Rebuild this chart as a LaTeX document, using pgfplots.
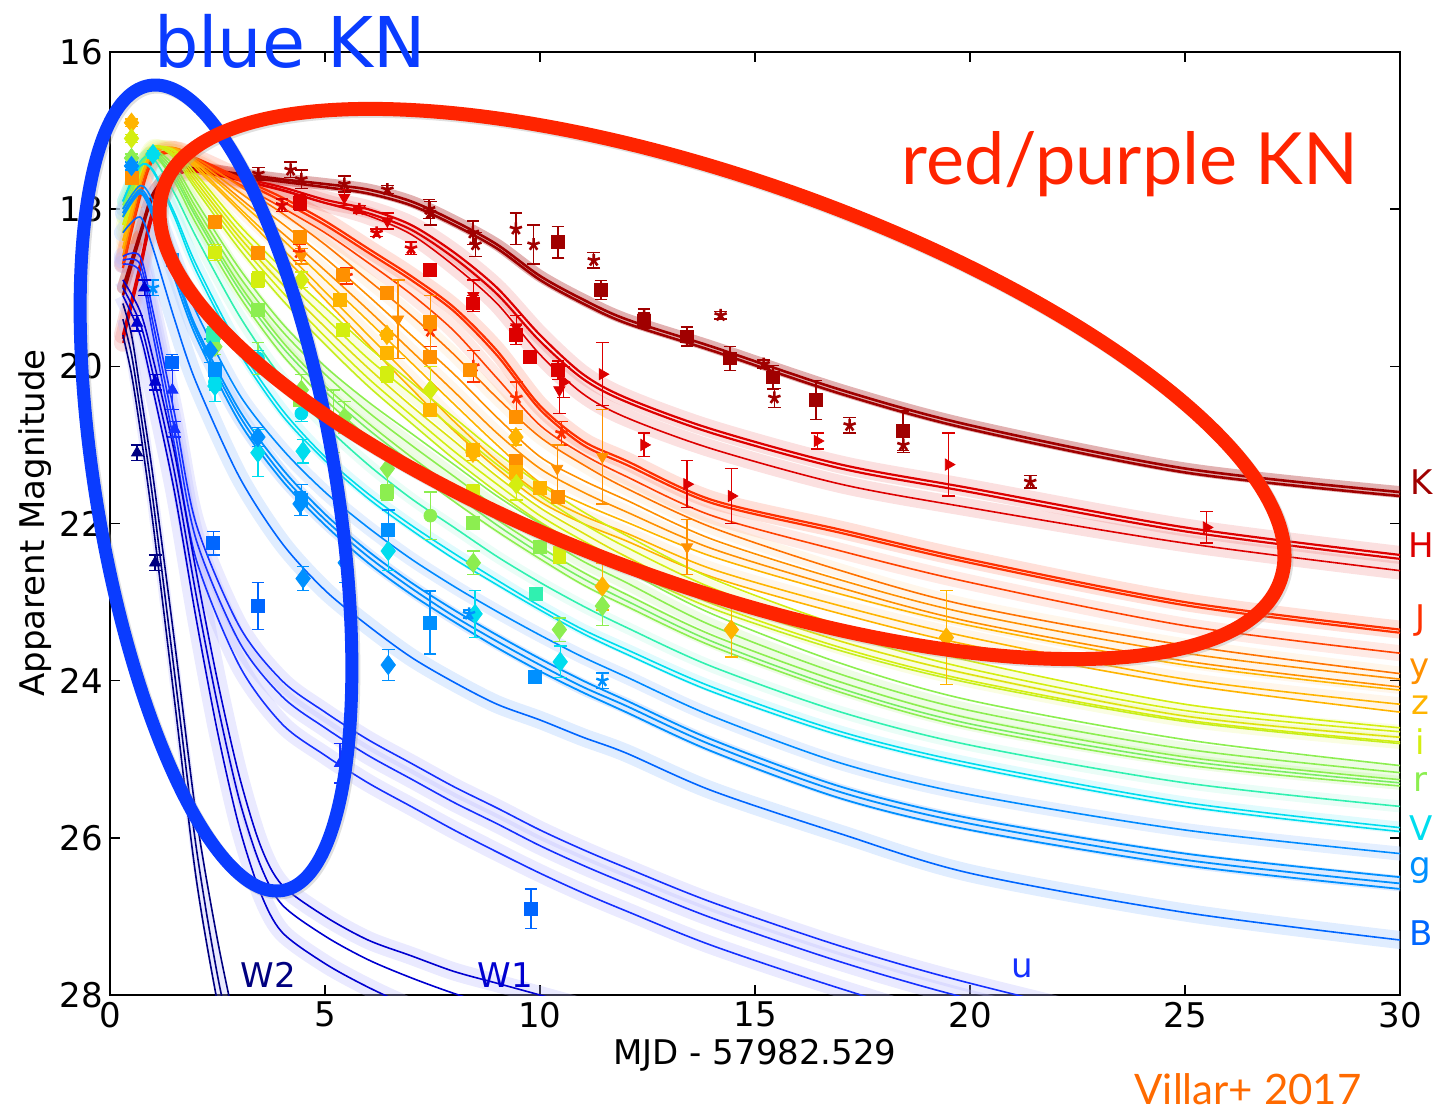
\documentclass[border=0pt]{standalone}
\usepackage{pgfplots}
\usepackage{pgfplotstable}
\pgfplotsset{compat=1.18}
\usepackage{fontspec}
\setmainfont{DejaVu Sans}
\newfontfamily\gill{Lato}

\definecolor{cK}{HTML}{A00000}
\definecolor{cH}{HTML}{DD0000}
\definecolor{cJ}{HTML}{FF3000}
\definecolor{cY}{HTML}{FF9000}
\definecolor{cZ}{HTML}{FFB400}
\definecolor{cI}{HTML}{D4EE10}
\definecolor{cR}{HTML}{8CEE50}
\definecolor{cT}{HTML}{30F0B0}
\definecolor{cV}{HTML}{00DDEE}
\definecolor{cG}{HTML}{0090FF}
\definecolor{cB}{HTML}{0066FF}
\definecolor{cU}{HTML}{1530FF}
\definecolor{cW1}{HTML}{0000D0}
\definecolor{cW2}{HTML}{000080}
\definecolor{lblue}{HTML}{BBD6FF}
\definecolor{lav}{HTML}{B8B8FF}
\definecolor{ellB}{HTML}{0A3CFF}
\definecolor{ellR}{HTML}{FF2400}
\definecolor{villar}{HTML}{FF6A00}

\pgfplotstableread{
x K1 K2 H1 H2 H3 J1 J2 J3 O1 O2 O3 O4 O5 O6 Y1 Y2 Y3 Y4 Y5 G1 G2 G3 G4 G5 T C1 C2 g1 g2 g3 g4 B u1 u2 u3
0.3 19.0 19.1 19.6 19.65 19.7 18.7 18.75 18.7 18.6 18.6 18.5 18.5 18.4 18.4 18.3 18.3 18.2 18.2 18.1 18.1 18.1 18.0 18.0 17.95 17.9 17.9 17.9 18.0 18.05 18.05 18.1 18.3 18.6 18.65 18.7
0.7 18.3 18.35 18.7 18.75 18.8 17.8 17.85 17.8 17.7 17.7 17.65 17.65 17.6 17.6 17.55 17.55 17.5 17.5 17.48 17.5 17.5 17.45 17.45 17.42 17.4 17.45 17.45 17.7 17.75 17.78 17.8 18.1 18.6 18.7 18.8
1.0 17.8 17.85 18.0 18.05 18.1 17.35 17.38 17.35 17.3 17.3 17.28 17.28 17.25 17.25 17.22 17.22 17.2 17.2 17.2 17.25 17.27 17.28 17.3 17.3 17.35 17.5 17.52 17.9 18.0 18.05 18.1 18.5 19.3 19.45 19.6
1.5 17.5 17.53 17.55 17.58 17.6 17.25 17.27 17.27 17.22 17.22 17.22 17.23 17.23 17.24 17.25 17.27 17.3 17.32 17.35 17.45 17.5 17.55 17.6 17.65 17.8 18.05 18.1 18.6 18.75 18.8 18.88 19.4 20.6 20.8 21.0
2 17.48 17.5 17.5 17.52 17.52 17.35 17.38 17.4 17.35 17.38 17.4 17.42 17.45 17.48 17.55 17.6 17.65 17.7 17.75 17.9 17.98 18.05 18.1 18.18 18.35 18.7 18.78 19.3 19.5 19.55 19.62 20.2 22.0 22.2 22.45
3 17.55 17.58 17.6 17.63 17.62 17.6 17.63 17.68 17.7 17.78 17.85 17.9 17.98 18.02 18.2 18.28 18.35 18.42 18.5 18.75 18.85 18.95 19.02 19.1 19.35 19.75 19.82 20.35 20.55 20.62 20.7 21.4 23.3 23.5 23.8
4 17.62 17.65 17.72 17.76 17.75 17.85 17.9 17.98 18.05 18.18 18.3 18.38 18.5 18.58 18.75 18.85 18.95 19.05 19.15 19.45 19.55 19.68 19.75 19.85 20.15 20.55 20.62 21.05 21.3 21.38 21.45 22.25 24.0 24.2 24.55
5 17.68 17.72 17.88 17.92 17.92 18.15 18.2 18.3 18.45 18.62 18.78 18.9 19.05 19.15 19.25 19.38 19.5 19.62 19.72 20.0 20.1 20.25 20.32 20.42 20.75 21.15 21.2 21.6 21.88 21.95 22.02 22.85 24.4 24.6 24.95
6 17.75 17.8 18.0 18.05 18.08 18.5 18.55 18.68 18.9 19.1 19.28 19.42 19.6 19.72 19.75 19.9 20.02 20.15 20.25 20.45 20.58 20.72 20.8 20.9 21.25 21.62 21.68 22.05 22.35 22.42 22.5 23.3 24.75 24.95 25.3
7 17.9 17.95 18.2 18.26 18.32 18.85 18.9 19.08 19.35 19.6 19.8 19.95 20.15 20.28 20.2 20.35 20.5 20.62 20.72 20.85 21.0 21.15 21.22 21.32 21.68 22.02 22.08 22.45 22.75 22.82 22.9 23.7 25.05 25.25 25.6
8 18.15 18.2 18.55 18.62 18.72 19.25 19.3 19.55 19.85 20.1 20.32 20.48 20.7 20.82 20.65 20.8 20.95 21.08 21.18 21.25 21.4 21.55 21.62 21.72 22.05 22.38 22.45 22.8 23.1 23.18 23.25 24.02 25.35 25.55 25.9
9 18.45 18.5 19.0 19.08 19.2 19.8 19.86 20.15 20.4 20.65 20.85 21.0 21.2 21.3 21.1 21.25 21.4 21.5 21.6 21.65 21.8 21.95 22.02 22.1 22.42 22.72 22.78 23.12 23.42 23.5 23.58 24.3 25.62 25.82 26.18
10 18.85 18.9 19.6 19.68 19.85 20.5 20.55 20.75 20.9 21.15 21.3 21.48 21.62 21.72 21.5 21.65 21.8 21.9 21.98 22.0 22.15 22.3 22.38 22.45 22.75 23.05 23.1 23.42 23.72 23.8 23.88 24.5 25.9 26.1 26.45
11 19.15 19.2 20.1 20.16 20.35 20.95 21.0 21.12 21.25 21.45 21.6 21.75 21.9 22.0 21.85 22.0 22.12 22.22 22.3 22.32 22.48 22.62 22.7 22.78 23.05 23.35 23.4 23.7 24.0 24.08 24.15 24.72 26.15 26.35 26.7
12 19.4 19.45 20.4 20.45 20.65 21.2 21.25 21.4 21.55 21.7 21.85 21.98 22.12 22.22 22.15 22.3 22.42 22.5 22.58 22.6 22.75 22.9 22.98 23.05 23.32 23.6 23.66 23.95 24.25 24.32 24.4 24.92 26.38 26.58 26.93
14 19.75 19.8 20.8 20.85 21.05 21.7 21.74 21.9 22.05 22.2 22.32 22.42 22.58 22.68 22.7 22.82 22.95 23.02 23.08 23.15 23.3 23.42 23.5 23.56 23.82 24.08 24.14 24.45 24.75 24.82 24.9 25.4 26.82 27.02 27.37
17 20.3 20.35 21.25 21.3 21.5 22.08 22.12 22.35 22.6 22.72 22.82 22.9 23.05 23.15 23.3 23.4 23.5 23.58 23.62 23.78 23.92 24.02 24.1 24.15 24.4 24.65 24.7 25.05 25.35 25.42 25.5 25.95 27.38 27.58 27.92
20 20.75 20.8 21.55 21.6 21.8 22.46 22.5 22.75 23.05 23.15 23.25 23.3 23.45 23.55 23.75 23.85 23.92 24.0 24.03 24.25 24.38 24.48 24.55 24.6 24.82 25.05 25.1 25.45 25.75 25.82 25.9 26.45 27.85 28.05 28.4
25 21.3 21.35 22.05 22.1 22.25 23.0 23.04 23.3 23.55 23.65 23.75 23.8 23.98 24.05 24.3 24.38 24.45 24.5 24.52 24.75 24.87 24.97 25.02 25.07 25.3 25.55 25.6 25.9 26.2 26.28 26.35 26.95 28.5 28.7 29.0
30 21.6 21.65 22.4 22.45 22.6 23.35 23.39 23.65 23.91 23.98 24.08 24.12 24.3 24.4 24.6 24.65 24.72 24.78 24.8 25.08 25.17 25.26 25.3 25.34 25.6 25.87 25.92 26.2 26.5 26.58 26.65 27.3 29.0 29.2 29.5
}\main

\pgfplotstableread{
x a b c
0.3 18.9 19.0 19.1
0.7 19.3 19.45 19.6
1.0 19.9 20.1 20.3
1.5 21.1 21.35 21.6
2.0 22.6 22.9 23.2
2.5 24.0 24.3 24.65
3.0 25.2 25.5 25.85
3.5 26.1 26.35 26.7
4.0 26.6 26.85 27.2
5.0 27.0 27.25 27.6
6.0 27.3 27.55 27.9
7.0 27.5 27.78 28.15
8.0 27.7 27.98 28.35
9.0 27.85 28.15 28.5
10 28.0 28.3 28.65
11 28.15 28.45 28.8
12 28.3 28.6 28.95
}\wone

\pgfplotstableread{
x a b c
0.3 19.2 19.4 19.6
0.5 19.6 19.85 20.1
0.7 20.3 20.55 20.8
1.0 21.4 21.7 22.0
1.5 23.5 23.9 24.25
2.0 25.7 26.1 26.5
2.5 27.3 27.75 28.1
3.0 28.6 29.0 29.4
3.5 29.8 30.2 30.6
}\wtwo

\newcommand\bnd[4]{\addplot[draw=#2, line width=#3, draw opacity=#4, smooth, line cap=round] table[x=x,y=#1]{\main};}
\newcommand\mln[3]{\addplot[draw=#2, line width=#3, smooth] table[x=x,y=#1]{\main};}

\pgfplotsset{
  pts/.style={only marks, mark size=3.2pt, error bars/.cd, y dir=both, y explicit, error mark=-, error bar style={line width=0.7pt}, error mark options={rotate=90, line width=0.7pt, mark size=3.2pt}},
  dia/.style={only marks, mark=diamond*, mark size=4.8pt, error bars/.cd, y dir=both, y explicit, error mark=-, error bar style={line width=0.7pt}, error mark options={rotate=90, line width=0.7pt, mark size=3.2pt}},
}

\begin{document}
\begin{tikzpicture}
\useasboundingbox (0,0) rectangle (722pt,555pt);
\begin{axis}[
  at={(55pt,57.5pt)}, anchor=south west,
  scale only axis, width=645pt, height=471.5pt,
  xmin=0, xmax=30, ymin=16, ymax=28, y dir=reverse,
  xtick={0,5,...,30}, ytick={16,18,...,28},
  tick align=inside, major tick length=5pt,
  tick style={black, line width=0.7pt},
  axis line style={line width=1pt},
  /pgf/number format/assume math mode=true,
  tick label style={font=\fontsize{17}{20}\selectfont},
  clip=true,
]
% ---------- bands ----------
\bnd{K1}{cK}{6pt}{0.3}
\bnd{H1}{cH}{9pt}{0.12}
\bnd{H3}{cH}{9pt}{0.12}
\bnd{J1}{cJ}{9pt}{0.15}
\bnd{J3}{cJ}{8pt}{0.1}
\bnd{O1}{cY}{7pt}{0.08}
\bnd{O3}{cY}{7pt}{0.08}
\bnd{O5}{cY}{7pt}{0.08}
\bnd{Y2}{cI}{7pt}{0.12}
\bnd{Y4}{cI}{7pt}{0.12}
\bnd{G2}{cR}{7pt}{0.15}
\bnd{G4}{cR}{7pt}{0.15}
\bnd{T}{cT}{6pt}{0.1}
\bnd{C1}{cV}{6pt}{0.12}
\bnd{g1}{lblue}{7pt}{0.4}
\bnd{g3}{lblue}{8pt}{0.5}
\bnd{B}{lblue}{9pt}{0.45}
\bnd{u1}{lav}{9pt}{0.3}
\bnd{u2}{lav}{9pt}{0.3}
\bnd{u3}{lav}{9pt}{0.3}
\addplot[draw=lav, line width=9pt, draw opacity=0.3, smooth] table[x=x,y=a]{\wone};
\addplot[draw=lav, line width=9pt, draw opacity=0.3, smooth] table[x=x,y=c]{\wone};
\addplot[draw=lav, line width=6pt, draw opacity=0.3, smooth] table[x=x,y=b]{\wtwo};
% ---------- lines ----------
\mln{K1}{cK}{1.3pt}
\mln{K2}{cK}{1.3pt}
\mln{H1}{cH}{1.1pt}
\mln{H2}{cH}{1.1pt}
\mln{H3}{cH}{0.8pt}
\mln{J1}{cJ}{1.1pt}
\mln{J2}{cJ}{1.1pt}
\mln{J3}{cJ!80!cY}{0.8pt}
\mln{O1}{cY!70!cJ}{0.8pt}
\mln{O2}{cY}{0.8pt}
\mln{O3}{cY}{0.8pt}
\mln{O4}{cZ}{0.8pt}
\mln{O5}{cZ}{0.8pt}
\mln{O6}{cZ}{0.8pt}
\mln{Y1}{cI}{0.8pt}
\mln{Y2}{cI}{0.8pt}
\mln{Y3}{cI!80!cZ}{0.8pt}
\mln{Y4}{cI}{0.8pt}
\mln{Y5}{cI!80!cR}{0.8pt}
\mln{G1}{cR}{0.8pt}
\mln{G2}{cR}{0.8pt}
\mln{G3}{cR}{0.8pt}
\mln{G4}{cR!80!cT}{0.8pt}
\mln{G5}{cR}{0.8pt}
\mln{T}{cT}{0.8pt}
\mln{C1}{cV}{0.8pt}
\mln{C2}{cV}{0.8pt}
\mln{g1}{cG!85!cB}{0.8pt}
\mln{g2}{cG}{0.9pt}
\mln{g3}{cG}{0.9pt}
\mln{g4}{cG}{0.9pt}
\mln{B}{cB}{0.8pt}
\mln{u1}{cU}{0.8pt}
\mln{u2}{cU}{0.8pt}
\mln{u3}{cU}{0.8pt}
\addplot[draw=cW1, line width=0.8pt, smooth] table[x=x,y=a]{\wone};
\addplot[draw=cW1, line width=0.8pt, smooth] table[x=x,y=b]{\wone};
\addplot[draw=cW1, line width=0.8pt, smooth] table[x=x,y=c]{\wone};
\addplot[draw=cW2, line width=0.8pt, smooth] table[x=x,y=a]{\wtwo};
\addplot[draw=cW2, line width=0.8pt, smooth] table[x=x,y=b]{\wtwo};
\addplot[draw=cW2, line width=0.8pt, smooth] table[x=x,y=c]{\wtwo};
% ---------- data points ----------
\addplot[cK, mark=square*, pts] table[x=x,y=y,y error=e]{
x y e
10.42 18.42 0.2
11.42 19.03 0.12
12.42 19.42 0.1
13.42 19.62 0.12
14.42 19.9 0.15
15.42 20.14 0.15
16.42 20.43 0.25
18.44 20.82 0.25
};
\addplot[cK, mark=star, mark options={line width=1.3pt}, pts] table[x=x,y=y,y error=e]{
x y e
3.45 17.55 0.08
4.2 17.5 0.1
4.45 17.62 0.12
5.45 17.68 0.1
6.45 17.75 0.05
7.42 18.0 0.12
7.45 18.05 0.15
8.44 18.3 0.15
9.44 18.25 0.2
9.85 18.45 0.25
11.25 18.65 0.1
12.42 19.35 0.08
14.2 19.35 0.05
15.2 19.97 0.05
17.2 20.75 0.1
18.45 21.0 0.1
21.4 21.47 0.08
15.45 20.4 0.12
8.5 18.45 0.15
};
\addplot[cH, mark=square*, pts] table[x=x,y=y,y error=e]{
x y e
4.42 17.92 0.1
7.44 18.77 0.08
8.44 19.2 0.1
9.44 19.6 0.12
9.77 19.88 0.05
10.42 20.05 0.12
};
\addplot[cH, mark=triangle*, mark options={rotate=-90}, pts] table[x=x,y=y,y error=e]{
x y e
10.55 20.2 0.2
11.45 20.1 0.4
12.42 21.0 0.15
13.42 21.5 0.3
14.45 21.65 0.35
19.5 21.25 0.4
25.5 22.05 0.2
16.45 20.95 0.1
};
\addplot[cH, mark=triangle*, mark options={rotate=180}, pts] table[x=x,y=y,y error=e]{
x y e
5.45 17.85 0.1
6.45 18.15 0.1
8.45 19.1 0.2
9.45 19.5 0.15
10.45 20.3 0.3
};
\addplot[cH, mark=star, mark options={line width=1.3pt}, pts] table[x=x,y=y,y error=e]{
x y e
4.0 17.95 0.08
5.8 18.0 0.05
6.2 18.3 0.05
7.0 18.5 0.08
};
\addplot[cJ, mark=star, mark options={line width=1.3pt}, pts] table[x=x,y=y,y error=e]{
x y e
4.4 18.55 0.1
5.5 18.85 0.1
7.45 19.55 0.2
8.45 20.0 0.2
9.45 20.4 0.2
10.5 20.85 0.15
};
\addplot[cY, mark=square*, pts] table[x=x,y=y,y error=e]{
x y e
2.44 18.16 0.05
3.44 18.56 0.08
4.42 18.35 0.05
5.42 18.84 0.05
6.44 19.07 0.05
7.44 19.43 0.05
7.44 19.88 0.05
8.37 20.05 0.05
9.44 20.64 0.05
9.44 21.2 0.05
10.42 21.66 0.05
0.5 17.6 0.05
};
\addplot[cY, mark=triangle*, mark options={rotate=180}, pts] table[x=x,y=y,y error=e]{
x y e
4.45 18.6 0.1
6.7 19.4 0.5
7.45 19.5 0.4
10.4 21.3 0.3
11.45 21.15 0.6
13.42 22.3 0.35
};
\addplot[cZ, mark=square*, pts] table[x=x,y=y,y error=e]{
x y e
5.35 19.15 0.05
6.44 19.83 0.05
7.44 20.55 0.05
8.44 21.06 0.05
9.44 21.34 0.05
10.0 21.55 0.05
};
\addplot[cZ, dia] table[x=x,y=y,y error=e]{
x y e
0.5 16.9 0.05
6.44 19.6 0.05
9.44 20.9 0.1
8.44 21.1 0.1
14.45 23.35 0.35
11.45 22.8 0.3
19.45 23.45 0.6
};
\addplot[cI, mark=square*, pts] table[x=x,y=y,y error=e]{
x y e
2.44 18.55 0.1
3.44 18.9 0.1
5.42 19.54 0.05
6.44 20.1 0.1
8.44 21.6 0.1
10.45 22.4 0.1
};
\addplot[cI, dia] table[x=x,y=y,y error=e]{
x y e
0.5 17.1 0.05
4.45 18.9 0.1
7.45 20.3 0.3
9.45 21.5 0.2
};
\addplot[cR, mark=square*, pts] table[x=x,y=y,y error=e]{
x y e
3.44 19.28 0.05
4.42 20.43 0.05
8.44 21.99 0.05
10.0 22.3 0.05
6.44 21.6 0.1
};
\addplot[cR, dia] table[x=x,y=y,y error=e]{
x y e
0.5 17.35 0.05
2.44 19.75 0.1
4.45 20.3 0.2
5.45 20.65 0.2
8.45 22.5 0.15
10.45 23.35 0.15
11.45 23.05 0.25
6.45 21.3 0.25
};
\addplot[cR, mark=*, pts] table[x=x,y=y,y error=e]{
x y e
3.44 19.9 0.2
5.2 20.7 0.4
7.45 21.9 0.3
};
\addplot[cT, mark=square*, pts] table[x=x,y=y,y error=e]{
x y e
9.9 22.9 0.05
2.4 19.6 0.1
};
\addplot[cV, dia] table[x=x,y=y,y error=e]{
x y e
1.0 17.3 0.05
2.44 20.25 0.2
3.44 21.1 0.3
4.49 21.08 0.15
6.47 22.35 0.25
8.49 23.15 0.3
10.47 23.76 0.2
};
\addplot[cV, mark=*, pts] table[x=x,y=y,y error=e]{
x y e
3.44 19.9 0.1
4.45 20.6 0.1
2.44 20.2 0.1
};
\addplot[cG, dia] table[x=x,y=y,y error=e]{
x y e
0.5 17.45 0.05
2.33 19.8 0.15
3.44 20.9 0.12
4.42 21.75 0.15
4.49 22.7 0.15
5.47 22.5 0.25
6.47 23.8 0.2
};
\addplot[cG, mark=square*, pts] table[x=x,y=y,y error=e]{
x y e
2.44 20.05 0.1
4.45 21.7 0.2
6.47 22.08 0.25
7.44 23.26 0.4
9.88 23.95 0.05
1.45 18.65 0.05
};
\addplot[cG, mark=star, mark options={line width=1.2pt}, pts] table[x=x,y=y,y error=e]{
x y e
8.35 23.15 0.05
11.45 24.0 0.1
1.0 19.0 0.1
};
\addplot[cB, mark=square*, pts] table[x=x,y=y,y error=e]{
x y e
1.44 19.95 0.1
2.4 22.25 0.15
3.44 23.05 0.3
9.79 26.9 0.25
};
\addplot[cU, mark=triangle*, pts] table[x=x,y=y,y error=e]{
x y e
5.35 25.05 0.25
1.45 20.3 0.25
1.5 20.8 0.1
};
\addplot[cW1, mark=triangle*, pts] table[x=x,y=y,y error=e]{
x y e
1.05 20.2 0.1
0.63 19.45 0.1
0.8 19.0 0.1
};
\addplot[cW2, mark=triangle*, pts] table[x=x,y=y,y error=e]{
x y e
0.63 21.1 0.1
1.05 22.5 0.1
};
\end{axis}
% ---------- ellipses ----------
\draw[black!35, line width=6.5pt, opacity=0.35, rotate around={9.4:(109pt,310pt)}] (109pt,310pt) ellipse (60pt and 204pt);
\draw[black!35, line width=7pt, opacity=0.35, rotate around={-19.4:(362pt,362pt)}] (362pt,362pt) ellipse (296pt and 102pt);
\draw[ellB, line width=6.5pt, rotate around={9.4:(108pt,311pt)}] (108pt,311pt) ellipse (60pt and 204pt);
\draw[ellR, line width=7pt, rotate around={-19.4:(361pt,363pt)}] (361pt,363pt) ellipse (296pt and 102pt);
% ---------- texts in pixel frame ----------
\begin{scope}[x=0.5pt,y=-0.5pt,yshift=555pt]
\node[font=\fontsize{17}{20}\selectfont] at (755,1055) {MJD - 57982.529};
\node[rotate=90, font=\fontsize{17}{20}\selectfont] at (35,523) {Apparent Magnitude};
\node[ellB, font=\fontsize{35}{40}\selectfont, anchor=base, inner sep=0pt] at (290,68) {blue KN};
\node[ellR, font=\gill\fontsize{36}{40}\selectfont, anchor=base, inner sep=0pt] at (1130,185) {red/purple KN};
\node[villar, font=\gill\fontsize{21}{24}\selectfont, anchor=base, inner sep=0pt] at (1248,1104) {Villar+ 2017};
\begin{scope}[font=\fontsize{17}{20}\selectfont, inner sep=0pt]
\node[cK] at (1422,482) {K};
\node[cH] at (1421,545) {H};
\node[cJ] at (1420,621) {J};
\node[cY] at (1420,672) {y};
\node[cZ] at (1420,705) {z};
\node[cI] at (1420,742) {i};
\node[cR] at (1420,782) {r};
\node[cV] at (1421,828) {V};
\node[cG] at (1420,871) {g};
\node[cB] at (1421,933) {B};
\node[cW2] at (268,975) {W2};
\node[cW1] at (505,975) {W1};
\node[cU] at (1022,968) {u};
\end{scope}
\end{scope}
\end{tikzpicture}
\end{document}
